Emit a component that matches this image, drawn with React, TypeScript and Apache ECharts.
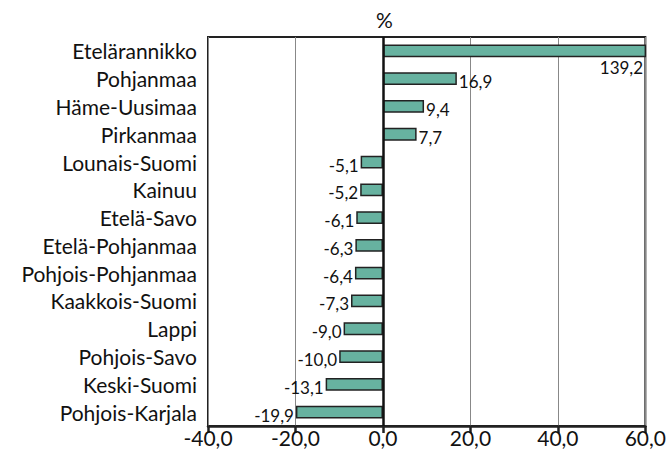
import React, { useEffect, useRef } from "react";
import * as echarts from "echarts";

const categories = [
  "Etelärannikko",
  "Pohjanmaa",
  "Häme-Uusimaa",
  "Pirkanmaa",
  "Lounais-Suomi",
  "Kainuu",
  "Etelä-Savo",
  "Etelä-Pohjanmaa",
  "Pohjois-Pohjanmaa",
  "Kaakkois-Suomi",
  "Lappi",
  "Pohjois-Savo",
  "Keski-Suomi",
  "Pohjois-Karjala",
];
const values = [139.2, 16.9, 9.4, 7.7, -5.1, -5.2, -6.1, -6.3, -6.4, -7.3, -9.0, -10.0, -13.1, -19.9];
const unitLabel = "%";

const fmt = (v: number) => v.toFixed(1).replace(".", ",");
const FONT = "Lato";

export default function App() {
  const ref = useRef<HTMLDivElement>(null);
  useEffect(() => {
    if (!ref.current) return;
    const chart = echarts.init(ref.current, null, { renderer: "svg" });
    const data = values.map((v, i) => {
      if (i === 0) {
        return {
          value: v,
          label: {
            show: true,
            position: "insideRight",
            distance: 3,
            offset: [0, 17],
            formatter: () => fmt(v),
          },
        };
      }
      return {
        value: v,
        label: {
          show: true,
          position: v >= 0 ? "right" : "left",
          distance: 2,
          offset: [0, 3],
          formatter: () => fmt(v),
        },
      };
    });
    chart.setOption({
      animation: false,
      textStyle: { fontFamily: FONT },
      graphic: [
        {
          type: "text",
          left: 376,
          top: 9,
          style: { text: unitLabel, font: `21px ${FONT}`, fill: "#111" },
        },
      ],
      grid: {
        left: 208,
        right: 19,
        top: 37,
        bottom: 32,
        show: true,
        borderColor: "#222",
        borderWidth: 2,
        backgroundColor: "transparent",
      },
      xAxis: {
        type: "value",
        min: -40,
        max: 60,
        interval: 20,
        axisLine: { show: true, onZero: false, lineStyle: { color: "#222", width: 2.5 } },
        axisTick: { show: true, inside: false, length: 7, lineStyle: { color: "#222", width: 2.5 } },
        axisLabel: {
          color: "#111",
          fontSize: 21,
          fontFamily: FONT,
          margin: 1,
          formatter: (v: number) => fmt(v),
        },
        splitLine: { show: true, lineStyle: { color: "#888", width: 1 } },
      },
      yAxis: {
        type: "category",
        data: categories,
        inverse: true,
        axisLine: { show: false },
        axisTick: { show: false },
        axisLabel: { color: "#111", fontSize: 21, fontFamily: FONT, margin: 11 },
        splitLine: { show: false },
      },
      series: [
        {
          type: "bar",
          data,
          barWidth: "46%",
          clip: true,
          itemStyle: { color: "#67B2A0", borderColor: "#222", borderWidth: 1.5 },
          label: { color: "#111", fontSize: 17, fontFamily: FONT },
          markLine: {
            silent: true,
            symbol: "none",
            label: { show: false },
            lineStyle: { color: "#111", width: 2.5, type: "solid" },
            data: [{ xAxis: 0 }],
          },
        },
      ],
    });
    return () => chart.dispose();
  }, []);
  return <div ref={ref} style={{ width: 669, height: 458, position: "absolute", left: 0, top: 0 }} />;
}
